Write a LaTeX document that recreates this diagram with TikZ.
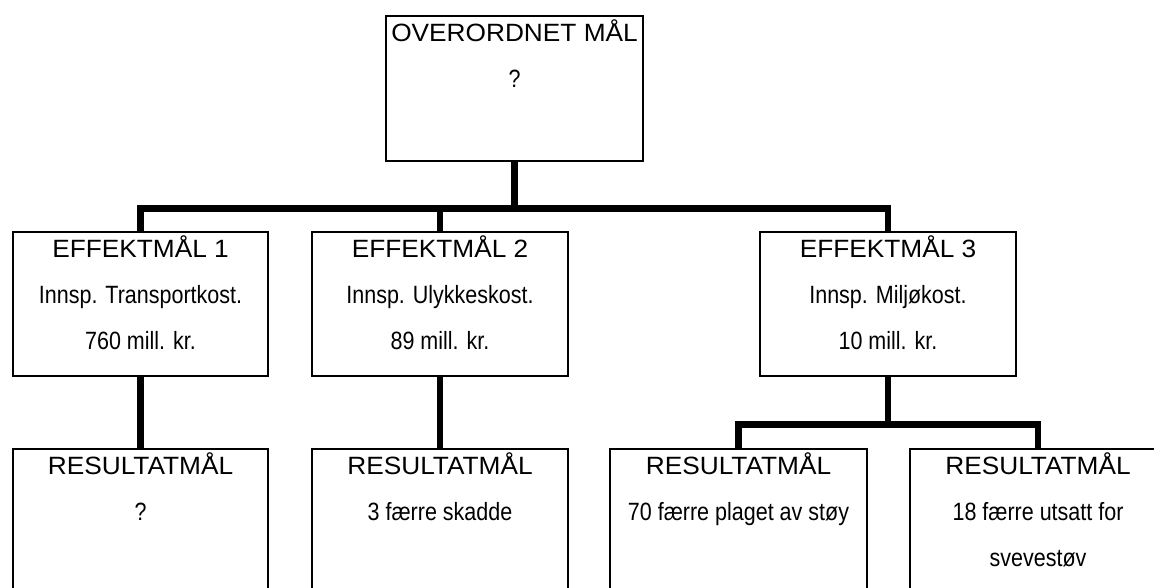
\documentclass[tikz,border=0pt]{standalone}
\usepackage{fontspec}
\setmainfont{Liberation Sans}
\newfontfamily\headfont[FakeStretch=1.05]{Liberation Sans}
\newfontfamily\linefont[FakeStretch=0.86]{Liberation Sans}
\usetikzlibrary{calc}
\begin{document}
\begin{tikzpicture}[x=1pt,y=-1pt,
  goalbox/.style={draw=black, line width=1.2pt, rectangle, inner sep=0pt,
    minimum width=256pt, minimum height=144pt},
  headline/.style={anchor=base, inner sep=0pt, font=\headfont\fontsize{25}{30}\selectfont},
  bodyline/.style={anchor=base, inner sep=0pt, font=\linefont\fontsize{25}{30}\selectfont},
  conn/.style={draw=black, line width=6.5pt, line join=miter}]

% page frame
\useasboundingbox (0,0) rectangle (1154,587);
\fill[white] (0,0) rectangle (1154,587);
\clip (0,0) rectangle (1154,587);

% top goal
\node[goalbox, minimum width=257pt, minimum height=145pt] (top) at (514.5,88.5) {};
\node[headline] (topA) at ($(top.north)+(0,26)$) {OVERORDNET MÅL};
\node[bodyline] (topB) at ($(top.north)+(0,72)$) {?};

% effect goals
\node[goalbox, minimum width=255pt] (m1) at (140.5,304) {};
\node[goalbox] (m2) at (440,304) {};
\node[goalbox] (m3) at (888,304) {};

\node[headline] (m1A) at ($(m1.north)+(0,26)$) {EFFEKTMÅL 1};
\node[bodyline] (m1B) at ($(m1.north)+(0,72)$) {Innsp. Transportkost.};
\node[bodyline] (m1C) at ($(m1.north)+(0,118)$) {760 mill. kr.};

\node[headline] (m2A) at ($(m2.north)+(0,26)$) {EFFEKTMÅL 2};
\node[bodyline] (m2B) at ($(m2.north)+(0,72)$) {Innsp. Ulykkeskost.};
\node[bodyline] (m2C) at ($(m2.north)+(0,118)$) {89 mill. kr.};

\node[headline] (m3A) at ($(m3.north)+(0,26)$) {EFFEKTMÅL 3};
\node[bodyline] (m3B) at ($(m3.north)+(0,72)$) {Innsp. Miljøkost.};
\node[bodyline] (m3C) at ($(m3.north)+(0,118)$) {10 mill. kr.};

% result goals (run past the lower and right page edges)
\node[goalbox, minimum width=255pt, minimum height=160pt] (b1) at (140.5,529) {};
\node[goalbox, minimum height=160pt] (b2) at (440,529) {};
\node[goalbox, minimum width=257pt, minimum height=160pt] (b4) at (738.5,529) {};
\node[goalbox, minimum height=160pt] (b5) at (1038,529) {};

\node[headline] (b1A) at ($(b1.north)+(0,26)$) {RESULTATMÅL};
\node[bodyline] (b1B) at ($(b1.north)+(0,72)$) {?};

\node[headline] (b2A) at ($(b2.north)+(0,26)$) {RESULTATMÅL};
\node[bodyline] (b2B) at ($(b2.north)+(0,72)$) {3 færre skadde};

\node[headline] (b4A) at ($(b4.north)+(0,26)$) {RESULTATMÅL};
\node[bodyline] (b4B) at ($(b4.north)+(0,72)$) {70 færre plaget av støy};

\node[headline] (b5A) at ($(b5.north)+(0,26)$) {RESULTATMÅL};
\node[bodyline] (b5B) at ($(b5.north)+(0,72)$) {18 færre utsatt for};
\node[bodyline] (b5C) at ($(b5.north)+(0,118)$) {svevestøv};

% connectors
\coordinate (j1) at (514.5,208.5);
\coordinate (j2) at (888,424.5);
\draw[conn] (top.south) -- (j1);
\draw[conn] (m1.north) |- (j1) -| (m3.north);
\draw[conn] (m2.north) -- (m2.north |- j1);
\draw[conn] (m1.south) -- (b1.north);
\draw[conn] (m2.south) -- (b2.north);
\draw[conn] (m3.south) -- (j2);
\draw[conn] (b4.north) |- (j2) -| (b5.north);
\end{tikzpicture}
\end{document}
